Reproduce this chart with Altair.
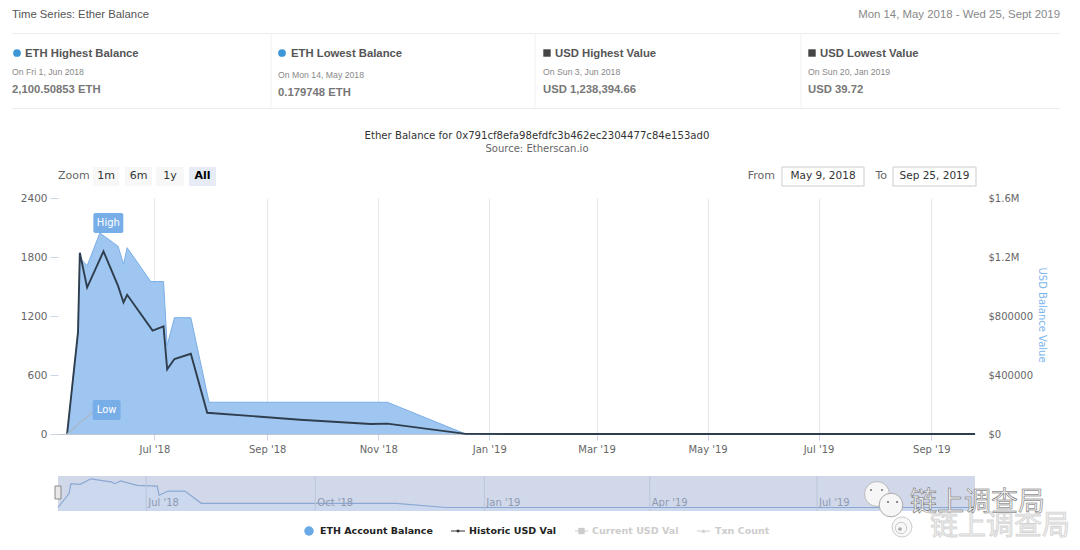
import altair as alt
import pandas as pd

# ETH balance series (area)
eth_dates = ['2018-05-14', '2018-05-20', '2018-05-21', '2018-05-25', '2018-06-01', '2018-06-11',
             '2018-06-14', '2018-06-16', '2018-06-29', '2018-07-06', '2018-07-08', '2018-07-12',
             '2018-07-21', '2018-07-30', '2018-07-31', '2018-11-06', '2018-12-19', '2019-09-25']
eth_values = [0.18, 1035, 1790, 1710, 2045, 1910, 1726, 1895, 1550, 1550, 900, 1183,
              1183, 411, 323, 323, 0.2, 0.2]

# historic USD value (line)
usd_dates = ['2018-05-14', '2018-05-20', '2018-05-21', '2018-05-25', '2018-06-03', '2018-06-11',
             '2018-06-14', '2018-06-16', '2018-06-30', '2018-07-06', '2018-07-08', '2018-07-12',
             '2018-07-21', '2018-07-30', '2018-09-19', '2018-10-28', '2018-11-06', '2018-12-19',
             '2019-01-20', '2019-09-25']
usd_values = [40, 690000, 1229000, 993000, 1238394, 1004000, 892000, 944000, 701000, 730000,
              438000, 508000, 544000, 144000, 97000, 68000, 70000, 1000, 40, 40]

# navigator overview, level in % of the band
nav_dates = ['2018-05-14', '2018-05-20', '2018-05-21', '2018-05-26', '2018-06-01', '2018-06-08',
             '2018-06-12', '2018-06-14', '2018-06-17', '2018-06-26', '2018-07-07', '2018-07-08',
             '2018-07-13', '2018-07-22', '2018-07-31', '2018-11-14', '2018-12-11', '2019-09-25']
nav_levels = [10, 50, 78, 76, 92, 86, 83, 78, 86, 73, 71, 45, 57, 57, 22, 22, 10, 10]
nav_tick_dates = ['2018-07-01', '2018-10-01', '2019-01-01', '2019-04-01', '2019-07-01']
nav_tick_labels = ["Jul '18", "Oct '18", "Jan '19", "Apr '19", "Jul '19"]

eth_ticks = [0, 600, 1200, 1800, 2400]
usd_ticks = [0, 400000, 800000, 1200000, 1600000]

PLOT_W, PLOT_H = 917, 236
LEFT, TOP = 58, 198   # page position of the plot area
UI = 'DejaVu Sans'
SANS = 'Liberation Sans'
BLANK = alt.Data(values=[{}])


def text(s, px, py, size=11, color='#666666', weight='normal', align='left', font=UI, **kw):
    return alt.Chart(BLANK).mark_text(text=s, fontSize=size, color=color, fontWeight=weight,
                                      align=align, baseline='middle', font=font, **kw).encode(
        x=alt.value(px - LEFT), y=alt.value(py - TOP))


def hline(x1, x2, py, color='#ececec'):
    return alt.Chart(BLANK).mark_rule(color=color, strokeWidth=1).encode(
        x=alt.value(x1 - LEFT), x2=alt.value(x2 - LEFT), y=alt.value(py - TOP))


def vline(px, y1, y2, color='#f0f0f0'):
    return alt.Chart(BLANK).mark_rule(color=color, strokeWidth=1).encode(
        x=alt.value(px - LEFT), y=alt.value(y1 - TOP), y2=alt.value(y2 - TOP))


def box(x1, x2, y1, y2, fill, stroke=None):
    kw = {'stroke': stroke, 'strokeWidth': 1} if stroke else {}
    return alt.Chart(BLANK).mark_rect(fill=fill, **kw).encode(
        x=alt.value(x1 - LEFT), x2=alt.value(x2 - LEFT),
        y=alt.value(y1 - TOP), y2=alt.value(y2 - TOP))


def dot(px, py, size, color, shape='circle', stroke=None):
    kw = {'stroke': stroke, 'strokeWidth': 1, 'fill': color} if stroke else {'color': color}
    return alt.Chart(BLANK).mark_point(shape=shape, size=size, filled=True, opacity=1, **kw).encode(
        x=alt.value(px - LEFT), y=alt.value(py - TOP))


eth_df = pd.DataFrame({'date': eth_dates, 'eth': eth_values})
usd_df = pd.DataFrame({'date': usd_dates, 'usd': usd_values})
nav_df = pd.DataFrame({'date': nav_dates, 'level': nav_levels})
nav_ticks_df = pd.DataFrame({'date': nav_tick_dates, 'label': nav_tick_labels})

main_domain = [alt.DateTime(year=2018, month=5, date=9), alt.DateTime(year=2019, month=9, date=25)]
nav_domain = [alt.DateTime(year=2018, month=5, date=14), alt.DateTime(year=2019, month=9, date=25)]
month_ticks = [alt.DateTime(year=y, month=m, date=1) for y, m in
               [(2018, 7), (2018, 9), (2018, 11), (2019, 1), (2019, 3), (2019, 5), (2019, 7), (2019, 9)]]

x_main = alt.X('date:T', scale=alt.Scale(domain=main_domain), axis=None)
y_eth = alt.Y('eth:Q', scale=alt.Scale(domain=[0, 2400]), axis=None)
x_nav = alt.X('date:T', scale=alt.Scale(domain=nav_domain), axis=None)
y_nav = alt.Y('level:Q', scale=alt.Scale(domain=[0, 100], range=[511 - TOP, 476 - TOP]), axis=None)

# main area, carries left and bottom axes
area = alt.Chart(eth_df).mark_area(color='#9fc6f0', opacity=1, line={'color': '#7aaee6', 'strokeWidth': 1}).encode(
    x=alt.X('date:T', scale=alt.Scale(domain=main_domain), title=None,
            axis=alt.Axis(values=month_ticks, format="%b '%y", grid=True, gridColor='#e6e6e6',
                          domainColor='#c0c6d0', tickColor='#ccd6eb', tickSize=6, labelColor='#666666',
                          labelFontSize=10, labelFont=UI, labelPadding=4, labelOverlap=False)),
    y=alt.Y('eth:Q', scale=alt.Scale(domain=[0, 2400]), title=None,
            axis=alt.Axis(values=eth_ticks, grid=False, domain=False, tickColor='#ccd6eb', tickSize=8,
                          labelColor='#666666', labelFontSize=10.5, labelFont=UI, labelPadding=3,
                          format='d')))

usd_line = alt.Chart(usd_df).mark_line(color='#2f3e4e', strokeWidth=1.9).encode(
    x=x_main,
    y=alt.Y('usd:Q', scale=alt.Scale(domain=[0, 1600000]), title=None,
            axis=alt.Axis(orient='right', values=usd_ticks, grid=False, domain=False, ticks=False,
                          labelColor='#666666', labelFontSize=10, labelFont=UI, labelPadding=13,
                          labelExpr="datum.value >= 1200000 ? '$' + datum.value / 1000000 + 'M' : '$' + datum.value")))

# High / Low flags, anchored on their data points
high_df = pd.DataFrame({'date': ['2018-06-01'], 'eth': [2045]})
low_df = pd.DataFrame({'date': ['2018-05-14'], 'eth': [0.18], 'date2': ['2018-05-28'], 'eth2': [224]})
FLAG = '#78aee8'
high_nub = alt.Chart(high_df).mark_point(shape='triangle-down', size=70, filled=True, color=FLAG, opacity=1,
                                         yOffset=-5).encode(x=x_main, y=y_eth)
high_box = alt.Chart(high_df).mark_rect(width=30, height=20, color=FLAG, cornerRadius=2,
                                        xOffset=8.5, yOffset=-10).encode(x=x_main, y=y_eth)
high_txt = alt.Chart(high_df).mark_text(text='High', color='white', fontSize=10, font=UI,
                                        dx=8.5, dy=-10).encode(x=x_main, y=y_eth)
low_rule = alt.Chart(low_df).mark_rule(color='#a9b8c9', strokeWidth=1.3).encode(
    x=x_main, y=y_eth, x2='date2:T', y2='eth2:Q')
low_box = alt.Chart(low_df).mark_rect(width=28, height=20, color=FLAG, cornerRadius=2,
                                      xOffset=39.5, yOffset=-24).encode(x=x_main, y=y_eth)
low_txt = alt.Chart(low_df).mark_text(text='Low', color='white', fontSize=10, font=UI,
                                      dx=39.5, dy=-24).encode(x=x_main, y=y_eth)

# navigator
nav_band = box(58, 975, 476, 511, '#d0d8ea')
nav_area = alt.Chart(nav_df).mark_area(color='#c6d8ef', opacity=0.5).encode(x=x_nav, y=y_nav)
nav_line = alt.Chart(nav_df).mark_line(color='#8aa8d2', strokeWidth=1.2).encode(x=x_nav, y=y_nav)
nav_rules = alt.Chart(nav_ticks_df).mark_rule(color='#bcc6dc', strokeWidth=1).encode(
    x=x_nav, y=alt.value(476 - TOP), y2=alt.value(511 - TOP))
nav_labels = alt.Chart(nav_ticks_df).mark_text(align='left', baseline='middle', dx=2, fontSize=10,
                                               font=UI, color='#8e9ab2').encode(
    x=x_nav, y=alt.value(503 - TOP), text='label:N')

layers = [
    # header
    text('Time Series: Ether Balance', 12, 15, 11.3, '#555555', font=SANS),
    text('Mon 14, May 2018 - Wed 25, Sept 2019', 1060, 15, 11.4, '#888888', align='right', font=SANS),
    hline(12, 1060, 33.5), hline(12, 1060, 108.5),
    vline(271, 33, 108), vline(535, 33, 108), vline(801, 33, 108),
    vline(2, 8, 542, '#f4f4f4'),
    dot(17, 53, 60, '#3d96d6'), dot(282, 53, 60, '#3d96d6'),
    dot(547, 53, 55, '#444444', 'square'), dot(812, 53, 55, '#444444', 'square'),
    text('ETH Highest Balance', 25, 53.5, 11.3, '#555555', 'bold', font=SANS),
    text('ETH Lowest Balance', 291, 53.5, 11.3, '#555555', 'bold', font=SANS),
    text('USD Highest Value', 555, 53.5, 11.3, '#555555', 'bold', font=SANS),
    text('USD Lowest Value', 820, 53.5, 11.3, '#555555', 'bold', font=SANS),
    text('On Fri 1, Jun 2018', 12, 71.5, 8.7, '#888888', font=SANS),
    text('On Mon 14, May 2018', 278, 74.5, 8.7, '#888888', font=SANS),
    text('On Sun 3, Jun 2018', 543, 71.5, 8.7, '#888888', font=SANS),
    text('On Sun 20, Jan 2019', 808, 71.5, 8.7, '#888888', font=SANS),
    text('2,100.50853 ETH', 12, 89.5, 11.3, '#777777', 'bold', font=SANS),
    text('0.179748 ETH', 278, 92.5, 11.3, '#777777', 'bold', font=SANS),
    text('USD 1,238,394.66', 543, 89.5, 11.3, '#777777', 'bold', font=SANS),
    text('USD 39.72', 808, 89.5, 11.3, '#777777', 'bold', font=SANS),
    # chart title
    text('Ether Balance for 0x791cf8efa98efdfc3b462ec2304477c84e153ad0', 537, 136, 10.15, '#333333', align='center'),
    text('Source: Etherscan.io', 537, 149, 10, '#666666', align='center'),
    # range selector
    text('Zoom', 58, 176, 11, '#666666'),
    box(93, 119, 167, 186, '#f7f7f7'), box(125, 152, 167, 186, '#f7f7f7'),
    box(156, 184, 167, 186, '#f7f7f7'), box(189, 216, 167, 186, '#e6ebf5'),
    text('1m', 106, 176, 11, '#333333', align='center'),
    text('6m', 138.5, 176, 11, '#333333', align='center'),
    text('1y', 170, 176, 11, '#333333', align='center'),
    text('All', 202.5, 176, 11, '#000000', 'bold', align='center'),
    text('From', 775, 176, 11, '#666666', align='right'),
    text('To', 887, 176, 11, '#666666', align='right'),
    box(782, 864, 167, 186, '#ffffff', '#cccccc'),
    box(893, 976, 167, 186, '#ffffff', '#cccccc'),
    text('May 9, 2018', 823, 176, 10.5, '#333333', align='center'),
    text('Sep 25, 2019', 934.5, 176, 10.5, '#333333', align='center'),
    # plot
    area, usd_line,
    high_nub, high_box, high_txt, low_rule, low_box, low_txt,
    text('USD Balance Value', 1042, 315, 10, '#7cb5ec', align='center', angle=90),
    # navigator
    nav_band, nav_area, nav_line, nav_rules, nav_labels,
    box(55, 61, 486, 499, '#e8e8e8', '#888888'),
    # legend
    dot(309, 531, 90, '#6aa9e8'),
    text('ETH Account Balance', 320, 531, 9.5, '#222222', 'bold'),
    hline(451, 465, 531, '#333333'), dot(458, 531, 14, '#333333', 'diamond'),
    text('Historic USD Val', 469, 531, 9.5, '#222222', 'bold'),
    hline(575, 588, 531, '#cccccc'), dot(581.5, 531, 40, '#cccccc', 'square'),
    text('Current USD Val', 592, 531, 9.5, '#cccccc', 'bold'),
    hline(697, 710, 531, '#cccccc'), dot(703.5, 531, 16, '#cccccc', 'triangle-up'),
    text('Txn Count', 715, 531, 9.5, '#cccccc', 'bold'),
    # watermark
    dot(877, 494, 620, '#f6f6f6', stroke='#bbbbbb'),
    dot(871, 490, 5, '#777777'), dot(882, 490, 5, '#777777'),
    dot(891, 505, 560, '#f6f6f6', stroke='#aaaaaa'),
    dot(888, 502, 5, '#777777'), dot(897, 502, 5, '#777777'),
    dot(902, 527, 400, '#f8f8f8', stroke='#cccccc'),
    dot(901, 528, 130, '#f8f8f8', stroke='#cccccc'),
    dot(900, 529, 14, '#aaaaaa'),
    text('链上调查局', 930, 527, 28, '#eeeeee', font='Noto Sans CJK SC', stroke='#d4d4d4', strokeWidth=0.8),
    text('链上调查局', 910, 503, 27, '#f0f0f0', font='Noto Sans CJK SC', stroke='#666666', strokeWidth=0.5),
]

chart = alt.layer(*layers).resolve_scale(x='independent', y='independent').properties(
    width=PLOT_W, height=PLOT_H,
    autosize=alt.AutoSizeParams(type='none'),
    padding={'left': LEFT - 8, 'top': TOP - 8, 'right': 1064 - (LEFT - 8) - PLOT_W, 'bottom': 534 - (TOP - 8) - PLOT_H},
    background='white',
).configure_view(stroke=None)

chart.save("out.html", embed_options={"renderer": "svg", "actions": False})
